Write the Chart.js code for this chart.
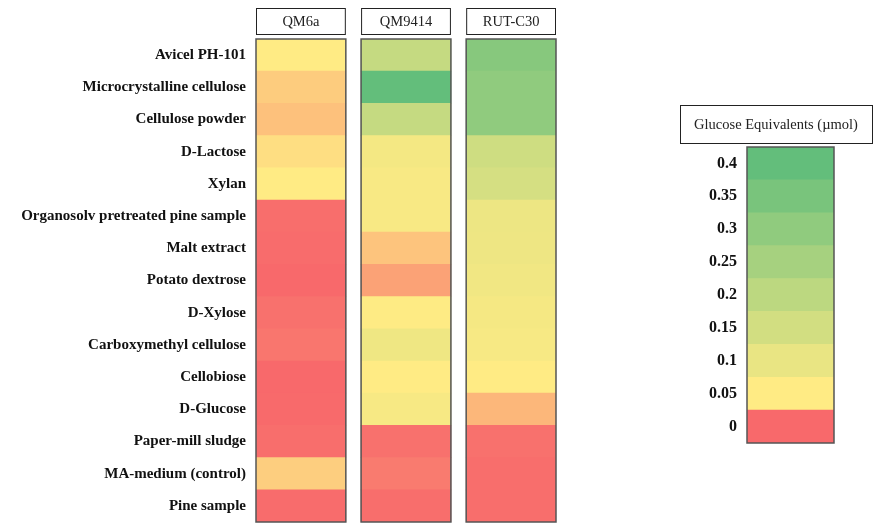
<!DOCTYPE html>
<html>
<head>
<meta charset="utf-8">
<script src="https://cdn.jsdelivr.net/npm/chart.js@4.4.1/dist/chart.umd.min.js"></script>
<style>
  body { margin: 0; background: #fff; }
  #wrap { position: relative; width: 875px; height: 525px; }
  #heat { position: absolute; left: 0; top: 0; }
  #scale { position: absolute; left: 660px; top: 100px; }
</style>
</head>
<body>
<div id="wrap">
  <canvas id="heat" width="560" height="525"></canvas>
  <canvas id="scale" width="215" height="350"></canvas>
</div>
<script>
// substrates, top to bottom
const substrates = [
  'Avicel PH-101', 'Microcrystalline cellulose', 'Cellulose powder', 'D-Lactose', 'Xylan',
  'Organosolv pretreated pine sample', 'Malt extract', 'Potato dextrose', 'D-Xylose',
  'Carboxymethyl cellulose', 'Cellobiose', 'D-Glucose', 'Paper-mill sludge',
  'MA-medium (control)', 'Pine sample'
];
const strains = ['QM6a', 'QM9414', 'RUT-C30'];

// glucose equivalents (umol)
const qm6a   = [0.05, 0.038, 0.034, 0.045, 0.05, 0.002, 0.001, 0.0, 0.003, 0.005, 0.0, 0.0005, 0.002, 0.039, 0.001];
const qm9414 = [0.18, 0.40, 0.18, 0.075, 0.065, 0.065, 0.035, 0.022, 0.052, 0.085, 0.05, 0.068, 0.003, 0.007, 0.002];
const rutc30 = [0.32, 0.30, 0.30, 0.16, 0.145, 0.09, 0.088, 0.082, 0.072, 0.067, 0.05, 0.03, 0.003, 0.002, 0.002];

const legendTicks = ['0.4', '0.35', '0.3', '0.25', '0.2', '0.15', '0.1', '0.05', '0'];

const RED = [248, 105, 107], YEL = [255, 235, 132], GRN = [99, 190, 123];
function mix(a, b, t) {
  return 'rgb(' + a.map((c, i) => Math.round(c + (b[i] - c) * t)).join(',') + ')';
}
function colorFor(v) {
  if (v <= 0.05) return mix(RED, YEL, Math.max(0, v) / 0.05);
  return mix(YEL, GRN, Math.min(1, (v - 0.05) / 0.35));
}

const serif = '"Liberation Serif", "Times New Roman", serif';
const colW = 1, colGap = 0.17;
const colRange = i => [i * (colW + colGap), i * (colW + colGap) + colW];
const series = [qm6a, qm9414, rutc30];

// fixed axis width, no extra label padding above/below
const fixAxis = w => s => { s.width = w; s.paddingTop = 0; s.paddingBottom = 0; };

// column frames and header boxes
const framePlugin = {
  id: 'frames',
  afterDatasetsDraw(chart) {
    const { ctx, chartArea, scales } = chart;
    ctx.save();
    strains.forEach((name, i) => {
      const [a, b] = colRange(i);
      const x0 = scales.x.getPixelForValue(a), x1 = scales.x.getPixelForValue(b);
      ctx.strokeStyle = '#555';
      ctx.lineWidth = 1.5;
      ctx.strokeRect(x0, chartArea.top, x1 - x0, chartArea.bottom - chartArea.top);
      ctx.fillStyle = '#fff';
      ctx.fillRect(x0, 8, x1 - x0, 26);
      ctx.strokeStyle = '#222';
      ctx.lineWidth = 1;
      ctx.strokeRect(x0 + 0.5, 8.5, x1 - x0 - 1, 26);
      ctx.fillStyle = '#222';
      ctx.font = '14.5px ' + serif;
      ctx.textAlign = 'center';
      ctx.textBaseline = 'middle';
      ctx.fillText(name, (x0 + x1) / 2, 22);
    });
    ctx.restore();
  }
};

new Chart(document.getElementById('heat'), {
  type: 'bar',
  data: {
    labels: substrates,
    datasets: strains.map((name, i) => ({
      label: name,
      data: substrates.map(() => colRange(i)),
      backgroundColor: c => colorFor(series[i][c.dataIndex]),
      borderWidth: 0,
      barPercentage: 1,
      categoryPercentage: 1,
      grouped: false
    }))
  },
  options: {
    indexAxis: 'y',
    responsive: false,
    animation: false,
    layout: { padding: { top: 39, bottom: 3, right: 4 } },
    plugins: { legend: { display: false }, tooltip: { enabled: false } },
    scales: {
      x: { min: 0, max: 2 * (colW + colGap) + colW, display: false },
      y: {
        grid: { display: false },
        border: { display: false },
        ticks: { color: '#111', padding: 2, font: { family: serif, size: 15, weight: 'bold' } },
        afterFit: fixAxis(256)
      }
    }
  },
  plugins: [framePlugin]
});

// colour scale legend
const legendPlugin = {
  id: 'legendFrame',
  afterDatasetsDraw(chart) {
    const { ctx, chartArea } = chart;
    ctx.save();
    ctx.strokeStyle = '#555';
    ctx.lineWidth = 1.5;
    ctx.strokeRect(chartArea.left, chartArea.top, chartArea.right - chartArea.left, chartArea.bottom - chartArea.top);
    ctx.strokeStyle = '#222';
    ctx.lineWidth = 1;
    ctx.strokeRect(20.5, 5.5, 192, 38);
    ctx.fillStyle = '#222';
    ctx.font = '14.5px ' + serif;
    ctx.textAlign = 'center';
    ctx.textBaseline = 'middle';
    ctx.fillText('Glucose Equivalents (\u00b5mol)', 116, 25);
    ctx.restore();
  }
};

new Chart(document.getElementById('scale'), {
  type: 'bar',
  data: {
    labels: legendTicks,
    datasets: [{
      data: legendTicks.map(() => 1),
      backgroundColor: legendTicks.map(t => colorFor(parseFloat(t))),
      borderWidth: 0,
      barPercentage: 1,
      categoryPercentage: 1
    }]
  },
  options: {
    indexAxis: 'y',
    responsive: false,
    animation: false,
    layout: { padding: { top: 47, right: 41, bottom: 7 } },
    plugins: { legend: { display: false }, tooltip: { enabled: false } },
    scales: {
      x: { min: 0, max: 1, display: false },
      y: {
        grid: { display: false },
        border: { display: false },
        ticks: { color: '#111', padding: 2, font: { family: serif, size: 16, weight: 'bold' } },
        afterFit: fixAxis(87)
      }
    }
  },
  plugins: [legendPlugin]
});
</script>
</body>
</html>
